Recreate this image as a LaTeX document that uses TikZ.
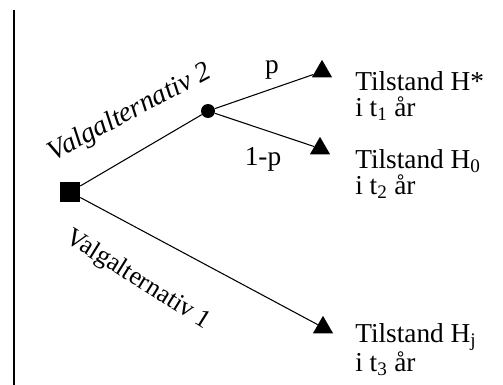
\documentclass[tikz,border=0pt]{standalone}
\usepackage{fontspec}
\setmainfont{Liberation Serif}
\usetikzlibrary{shapes.geometric,positioning}

\begin{document}
\begin{tikzpicture}[x=0.75pt, y=-0.75pt,
        every node/.style={font=\fontsize{20.5}{19.5}\selectfont},
        choice/.style={fill=black, rectangle, minimum size=15pt, inner sep=0pt},
        chance/.style={fill=black, circle, minimum size=10.5pt, inner sep=0pt},
        outcome/.style={fill=black, regular polygon, regular polygon sides=3, minimum size=17.5pt, inner sep=0pt},
        state/.style={anchor=north west, align=left, inner sep=0pt},
        altlabel/.style={font=\fontsize{19.5}{18}\selectfont, inner sep=0pt},
        branch/.style={line width=0.8pt}]
    \useasboundingbox (0,0) rectangle (503,385);
    % left margin rule
    \draw[line width=1.4pt] (14,10) -- (14,385);

    % decision and chance nodes
    \node[choice] (choice) at (70,192) {};
    \node[chance] (chance) at (208,111) {};
    \node[outcome] (hstar) at (322,71.5) {};
    \node[outcome] (hzero) at (320,148.5) {};
    \node[outcome] (hj) at (323,327.5) {};

    \draw[branch] (choice) -- (chance);
    \draw[branch] (chance) -- (hstar);
    \draw[branch] (chance) -- (hzero);
    \draw[branch] (choice) -- (hj);

    % probabilities and alternatives
    \node (p) at (272,70) {p};
    \node (q) at (263,159) {1-p};
    \node[altlabel, font=\fontsize{21}{18}\selectfont\itshape, rotate=28] (alt2) at (130,113) {Valgalternativ 2};
    \node[altlabel, rotate=-32] (alt1) at (138,280) {Valgalternativ 1};

    % end states
    \node[state] (shstar) at (355,71) {Tilstand H*\\i t\textsubscript{1} år};
    \node[state] (shzero) at (355,149) {Tilstand H\textsubscript{0}\\i t\textsubscript{2} år};
    \node[state] (shj) at (355,323) {Tilstand H\textsubscript{j}\\i t\textsubscript{3} år};
\end{tikzpicture}
\end{document}
